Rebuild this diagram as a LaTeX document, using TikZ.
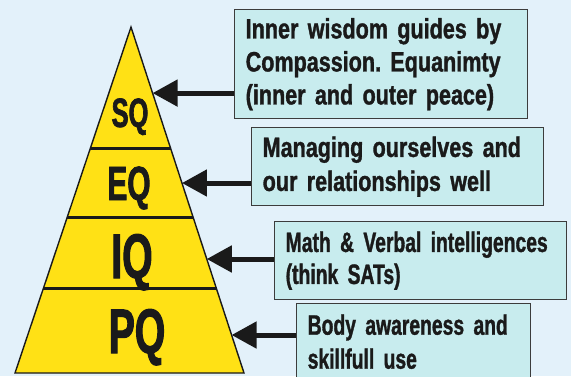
\documentclass[tikz,border=0pt]{standalone}
\usepackage{fontspec}
\usetikzlibrary{arrows.meta,calc}
\newfontfamily\boxfont{Liberation Sans}[FakeStretch=0.77,FakeBold=1.2]
\newfontfamily\narrowfont{Liberation Sans}[FakeStretch=0.69,FakeBold=1.2]
\newfontfamily\pyrfont{Liberation Sans}[FakeStretch=0.62,FakeBold=1.6]
\definecolor{bgblue}{HTML}{E3F1FA}
\definecolor{pyryellow}{HTML}{FFE115}
\definecolor{boxcyan}{HTML}{C8ECEE}
\definecolor{inkdark}{HTML}{1A1A1A}
\frenchspacing

\begin{document}
\begin{tikzpicture}[x=1pt,y=-1pt,
                info box/.style={draw=inkdark!85,line width=1.4pt,fill=boxcyan,text=inkdark,
                  align=left,anchor=north west,inner xsep=11pt,inner ysep=0pt},
                level label/.style={text=inkdark,anchor=base,inner sep=0pt},
                divider/.style={draw=inkdark,line width=3pt},
                pointer/.style={draw=inkdark,line width=5pt,-{Triangle[length=25pt,width=26pt]}}]

  \useasboundingbox[fill=bgblue] (0,0) rectangle (571,376);

  % the pyramid
  \coordinate (apex) at (131,27);
  \coordinate (bl) at (15,373);
  \coordinate (br) at (244,373);
  \filldraw[fill=pyryellow,draw=inkdark,line width=1.4pt] (apex) -- (br) -- (bl) -- cycle;

  \draw[divider] ($(apex)!0.3497!(bl)$) -- ($(apex)!0.3497!(br)$);
  \draw[divider] ($(apex)!0.5520!(bl)$) -- ($(apex)!0.5520!(br)$);
  \draw[divider] ($(apex)!0.7572!(bl)$) -- ($(apex)!0.7572!(br)$);

  \node[level label,font=\pyrfont\bfseries\fontsize{41}{41}\selectfont] (sq) at (130,127) {SQ};
  \node[level label,font=\pyrfont\bfseries\fontsize{48}{48}\selectfont] (eq) at (129,200) {EQ};
  \node[level label,font=\pyrfont\bfseries\fontsize{63}{63}\selectfont] (iq) at (132,278) {IQ};
  \node[level label,font=\pyrfont\bfseries\fontsize{63}{63}\selectfont] (pq) at (137,353) {PQ};

  % the explanations
  \node[info box,text width=271pt,minimum height=109pt,
        font=\boxfont\bfseries\fontsize{28}{33}\selectfont] (b1) at (234,9)
    {Inner wisdom guides by\\Compassion. Equanimty\\(inner and outer peace)};
  \node[info box,text width=270pt,minimum height=78pt,
        font=\boxfont\bfseries\fontsize{28}{34}\selectfont] (b2) at (251,127)
    {Managing ourselves and\\our relationships well};
  \node[info box,text width=270pt,minimum height=78pt,
        font=\narrowfont\bfseries\fontsize{28}{32}\selectfont] (b3) at (274,221)
    {Math \& Verbal intelligences\\(think SATs)};
  \node[info box,text width=212pt,minimum height=76pt,
        font=\narrowfont\bfseries\fontsize{28}{34}\selectfont] (b4) at (296,303)
    {Body awareness and\\skillfull use};

  % arrows onto the pyramid
  \coordinate (t1) at ($(apex)!0.191!(br)$);
  \coordinate (t2) at ($(apex)!0.4509!(br)$);
  \coordinate (t3) at ($(apex)!0.6705!(br)$);
  \coordinate (t4) at ($(apex)!0.8902!(br)$);

  \draw[pointer] (b1.west |- t1) -- (t1);
  \draw[pointer] (b2.west |- t2) -- (t2);
  \draw[pointer] (b3.west |- t3) -- (t3);
  \draw[pointer] (b4.west |- t4) -- (t4);
\end{tikzpicture}
\end{document}
